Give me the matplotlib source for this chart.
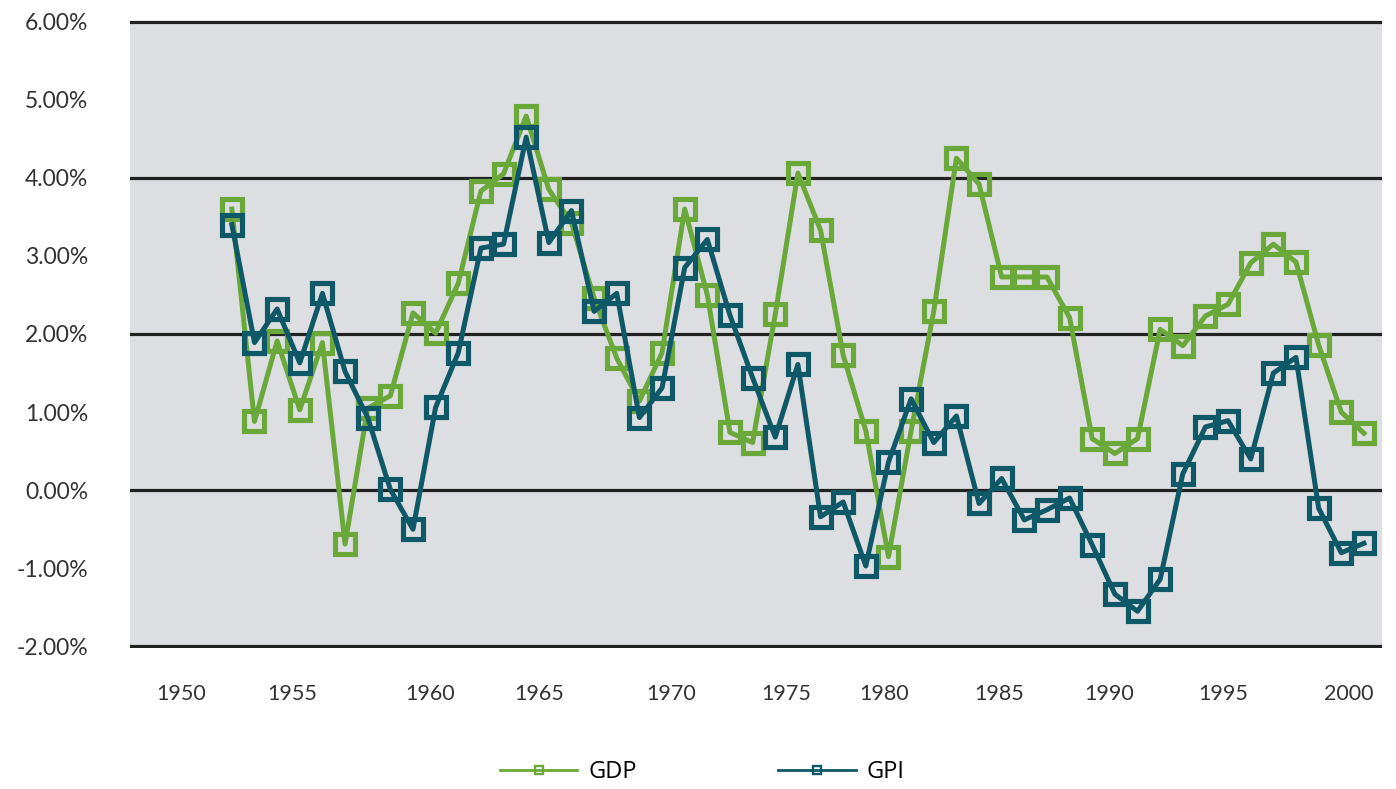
import matplotlib
matplotlib.use("Agg")
import matplotlib.pyplot as plt
from matplotlib.lines import Line2D
from matplotlib.ticker import FuncFormatter

years = list(range(1950, 2001))
gdp = [3.60, 0.88, 1.91, 1.03, 1.89, -0.69, 1.05, 1.21, 2.27, 2.01,
       2.65, 3.83, 4.05, 4.79, 3.85, 3.42, 2.46, 1.69, 1.14, 1.76,
       3.60, 2.50, 0.74, 0.61, 2.25, 4.06, 3.33, 1.73, 0.76, -0.85,
       0.76, 2.29, 4.25, 3.92, 2.73, 2.73, 2.73, 2.21, 0.66, 0.47,
       0.66, 2.06, 1.85, 2.23, 2.38, 2.91, 3.15, 2.92, 1.86, 1.00, 0.73]
gpi = [3.40, 1.89, 2.32, 1.63, 2.52, 1.52, 0.93, 0.01, -0.50, 1.06,
       1.76, 3.10, 3.15, 4.52, 3.17, 3.58, 2.29, 2.52, 0.93, 1.31,
       2.85, 3.21, 2.24, 1.44, 0.68, 1.61, -0.34, -0.15, -0.97, 0.36,
       1.17, 0.61, 0.95, -0.17, 0.15, -0.38, -0.25, -0.10, -0.70, -1.33,
       -1.55, -1.14, 0.21, 0.81, 0.89, 0.40, 1.50, 1.70, -0.23, -0.80, -0.68]

tick_labels = ["1950", "1955", "1960", "1965", "1970", "1975",
               "1980", "1985", "1990", "1995", "2000"]
# label positions as they appear in the original (slightly irregular)
tick_pos = [1947.75, 1952.65, 1958.75, 1963.56, 1969.39, 1974.47,
            1978.80, 1983.88, 1988.74, 1993.77, 1999.34]
y_ticks = [-2, -1, 0, 1, 2, 3, 4, 5, 6]
grid_lines = [-2, 0, 2, 4, 6]

GREEN = "#6aa83a"
TEAL = "#0e5868"
BG = "#dcdee1"

plt.rcParams['font.family'] = ['Lato', 'DejaVu Sans']

fig = plt.figure(figsize=(13.96, 7.89), dpi=100)
ax = fig.add_axes([0.0931, 0.1787, 0.8969, 0.7960])
ax.set_facecolor("none")
ax.axhspan(-2, 6, color=BG, zorder=0, lw=0)

for g in grid_lines:
    ax.axhline(g, color="#222222", lw=2.3, zorder=1)

mk = dict(marker="s", markersize=14.5, markeredgewidth=3.7, markerfacecolor="none")
ax.plot(years, gdp, color=GREEN, lw=3.6, markeredgecolor=GREEN, zorder=3, **mk)
ax.plot(years, gpi, color=TEAL, lw=3.6, markeredgecolor=TEAL, zorder=4, **mk)

ax.set_xlim(1945.5, 2000.8)
ax.set_ylim(-2.02, 6.02)
ax.set_yticks(y_ticks)
ax.yaxis.set_major_formatter(FuncFormatter(lambda v, p: f"{v:.2f}%"))
ax.set_xticks(tick_pos)
ax.set_xticklabels(tick_labels)
ax.tick_params(axis="y", length=0, pad=30, labelsize=16.5, labelcolor="#333333")
ax.tick_params(axis="x", length=0, pad=26, labelsize=15.5, labelcolor="#333333")
for s in ax.spines.values():
    s.set_visible(False)

handles = [
    Line2D([0], [0], color=GREEN, lw=2.0, marker="s", markersize=5.5,
           markeredgewidth=1.7, markerfacecolor="none", markeredgecolor=GREEN),
    Line2D([0], [0], color=TEAL, lw=2.0, marker="s", markersize=5.5,
           markeredgewidth=1.7, markerfacecolor="none", markeredgecolor=TEAL),
]
fig.legend(handles, ["GDP", "GPI"], loc="center", bbox_to_anchor=(0.503, 0.021),
           ncol=2, frameon=False, handlelength=3.3, columnspacing=6.0,
           handletextpad=0.45, prop={"family": ["Open Sans", "DejaVu Sans"], "size": 17})

fig.savefig("out.png", dpi=100)
